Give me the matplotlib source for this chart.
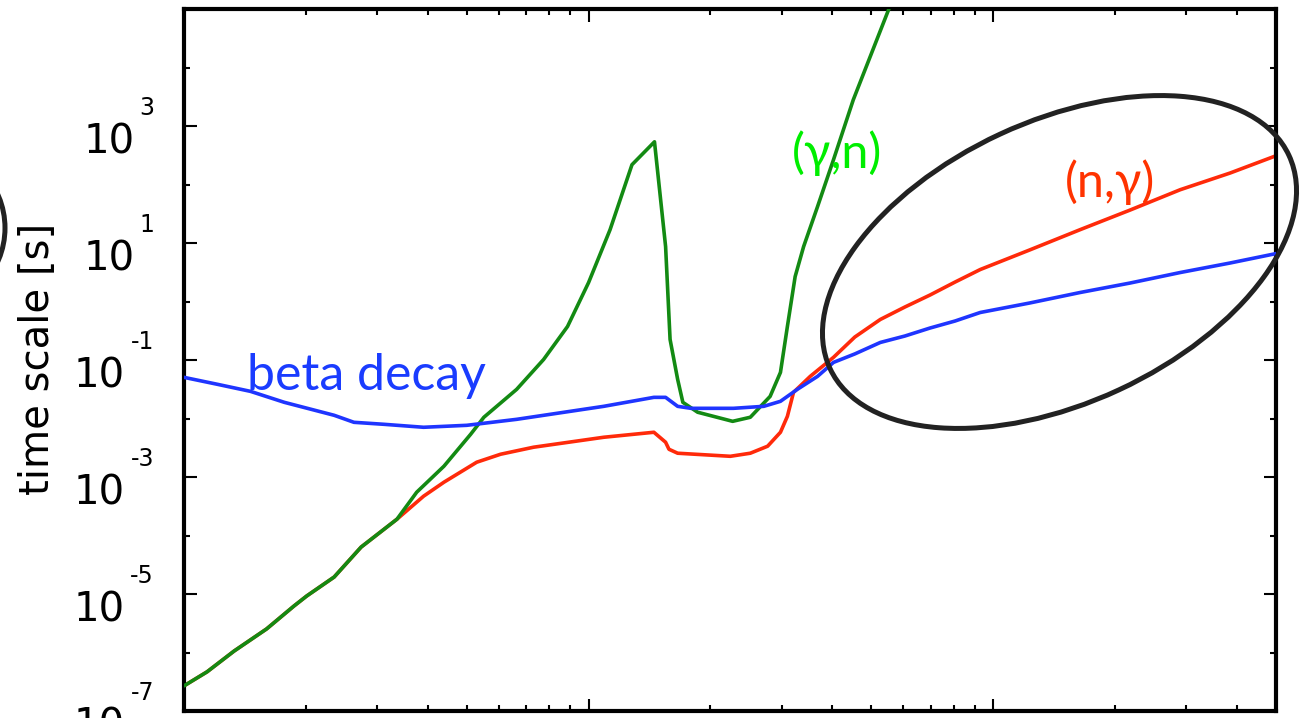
import matplotlib.pyplot as plt
from matplotlib.patches import Ellipse
from matplotlib.transforms import IdentityTransform
from matplotlib.ticker import FixedLocator, NullFormatter

# beta decay timescale
beta_x = [1.00, 1.21, 1.46, 1.77, 2.35, 2.63, 3.12, 3.91, 5.00, 6.64, 10.9, 14.5, 15.5,
          16.6, 17.9, 22.8, 27.1, 29.8, 32.8, 36.8, 40.3, 45.5, 52.6, 60.5, 69.8, 80.5,
          92.9, 123, 164, 218, 290, 385, 500]
beta_t = [0.0505, 0.0384, 0.0291, 0.0189, 0.01135, 0.00861, 0.00796, 0.00708, 0.00765,
          0.00968, 0.01615, 0.0230, 0.0230, 0.01615, 0.01493, 0.01493, 0.01615, 0.01967,
          0.0315, 0.0525, 0.091, 0.127, 0.1995, 0.257, 0.352, 0.464, 0.649, 0.942, 1.425,
          2.07, 3.13, 4.55, 6.59]

# (n,gamma) timescale
ng_x = [1.00, 1.14, 1.33, 1.60, 1.87, 2.01, 2.35, 2.74, 3.36, 3.91, 4.39, 5.29, 6.06, 7.31,
        10.9, 14.5, 15.5, 15.8, 16.6, 22.4, 25.1, 27.7, 29.8, 31.0, 32.1, 35.3, 40.3, 45.5,
        52.6, 60.5, 69.8, 80.5, 92.9, 123, 164, 218, 290, 385, 500]
ng_t = [2.69e-7, 4.67e-7, 1.06e-6, 2.53e-6, 6.24e-6, 9.24e-6, 1.95e-5, 6.34e-5, 1.9e-4,
        4.7e-4, 8.15e-4, 1.79e-3, 2.45e-3, 3.23e-3, 4.78e-3, 5.82e-3, 3.93e-3, 2.98e-3,
        2.55e-3, 2.26e-3, 2.55e-3, 3.36e-3, 5.82e-3, 0.0109, 0.028, 0.0525, 0.111, 0.247,
        0.493, 0.805, 1.29, 2.15, 3.52, 7.59, 16.9, 36.6, 81.5, 157, 310]

# (gamma,n) timescale
gn_x = [1.00, 1.14, 1.33, 1.60, 1.87, 2.01, 2.35, 2.74, 3.36, 3.76, 4.39, 5.11, 5.51, 6.64,
        7.74, 8.87, 10.0, 11.3, 12.8, 14.55, 15.5, 15.9, 16.6, 17.1, 18.6, 22.7, 25.1, 28.1,
        29.8, 31.0, 32.4, 34.0, 36.8, 40.3, 45.1, 55.1, 58.9]
gn_t = [2.69e-7, 4.67e-7, 1.06e-6, 2.53e-6, 6.24e-6, 9.24e-6, 1.95e-5, 6.34e-5, 1.9e-4,
        5.5e-4, 1.53e-3, 5.37e-3, 1.05e-2, 3.15e-2, 0.102, 0.374, 2.11, 16.9, 218, 537,
        8.69, 0.225, 0.0467, 0.0189, 0.0128, 8.95e-3, 0.0105, 0.0239, 0.0614, 0.374, 2.67,
        8.69, 41.8, 265, 2800, 9.6e4, 3.2e5]

y_label_exps = [-7, -5, -3, -1, 1, 3]
y_minor_exps = [-6, -4, -2, 0, 2, 4]

fig = plt.figure(figsize=(13.06, 7.18), dpi=100)
ax = fig.add_axes([0.1409, 0.00975, 0.8361, 0.9777])

line_kw = dict(lw=2.6, solid_joinstyle='round', solid_capstyle='round')
ax.plot(ng_x, ng_t, color='#ff2a0a', zorder=2, **line_kw)
ax.plot(gn_x, gn_t, color='#138a13', zorder=3, **line_kw)
ax.plot(beta_x, beta_t, color='#1f35ff', zorder=4, **line_kw)

ax.set_xscale('log')
ax.set_yscale('log')
ax.set_xlim(1, 500)
ax.set_ylim(1e-7, 1e5)

ax.xaxis.set_major_locator(FixedLocator([1, 10, 100]))
ax.xaxis.set_minor_locator(FixedLocator([m * 10**d for d in range(3) for m in range(2, 10)]))
ax.yaxis.set_major_locator(FixedLocator([10.0**e for e in y_label_exps]))
ax.yaxis.set_minor_locator(FixedLocator([10.0**e for e in y_minor_exps]))
ax.xaxis.set_major_formatter(NullFormatter())
ax.xaxis.set_minor_formatter(NullFormatter())
ax.yaxis.set_major_formatter(NullFormatter())
ax.yaxis.set_minor_formatter(NullFormatter())
ax.tick_params(which='both', direction='in', top=True, right=True, width=1.5, color='black')
ax.tick_params(which='major', length=9)
ax.tick_params(which='minor', length=4.5)
for s in ax.spines.values():
    s.set_linewidth(3)

# gnuplot-style "10^n" labels: exponent raised well above the base
for e in y_label_exps:
    base_dx = -49 if e > 0 else -59
    ax.annotate('10', xy=(0, 10.0**e), xycoords=('axes fraction', 'data'),
                xytext=(base_dx, -16), textcoords='offset pixels',
                ha='right', va='center', fontsize=29, annotation_clip=False)
    ax.annotate(str(e), xy=(0, 10.0**e), xycoords=('axes fraction', 'data'),
                xytext=(-30, 18), textcoords='offset pixels',
                ha='right', va='center', fontsize=17, annotation_clip=False)

# IdentityTransform uses display pixels measured from the bottom
fig.text(38, 718 - 359, 'time scale [s]', transform=IdentityTransform(), rotation=90,
         ha='center', va='center', fontsize=29)

lab_font = ['Lato', 'DejaVu Sans']
ax.text(2.83, 0.0307, 'beta decay', color='#1a3cff', fontsize=36, family=lab_font,
        ha='center', va='baseline')
ax.text(41.1, 191, '(γ,n)', color='#00ee00', fontsize=35, family=lab_font,
        ha='center', va='baseline')
ax.text(194.4, 61.1, '(n,γ)', color='#ff3300', fontsize=35, family=lab_font,
        ha='center', va='baseline')

# highlight ring around the late-time region, plus the edge of a ring at the left
fig.add_artist(Ellipse((1059.5, 718 - 262), 506, 282, angle=24.9, fill=False,
                       ec='#222222', lw=3.6, transform=IdentityTransform(), zorder=5))
fig.add_artist(Ellipse((-77, 718 - 228), 164, 164, fill=False,
                       ec='#222222', lw=3.6, transform=IdentityTransform(), zorder=5))

fig.savefig('out.png', dpi=100)
